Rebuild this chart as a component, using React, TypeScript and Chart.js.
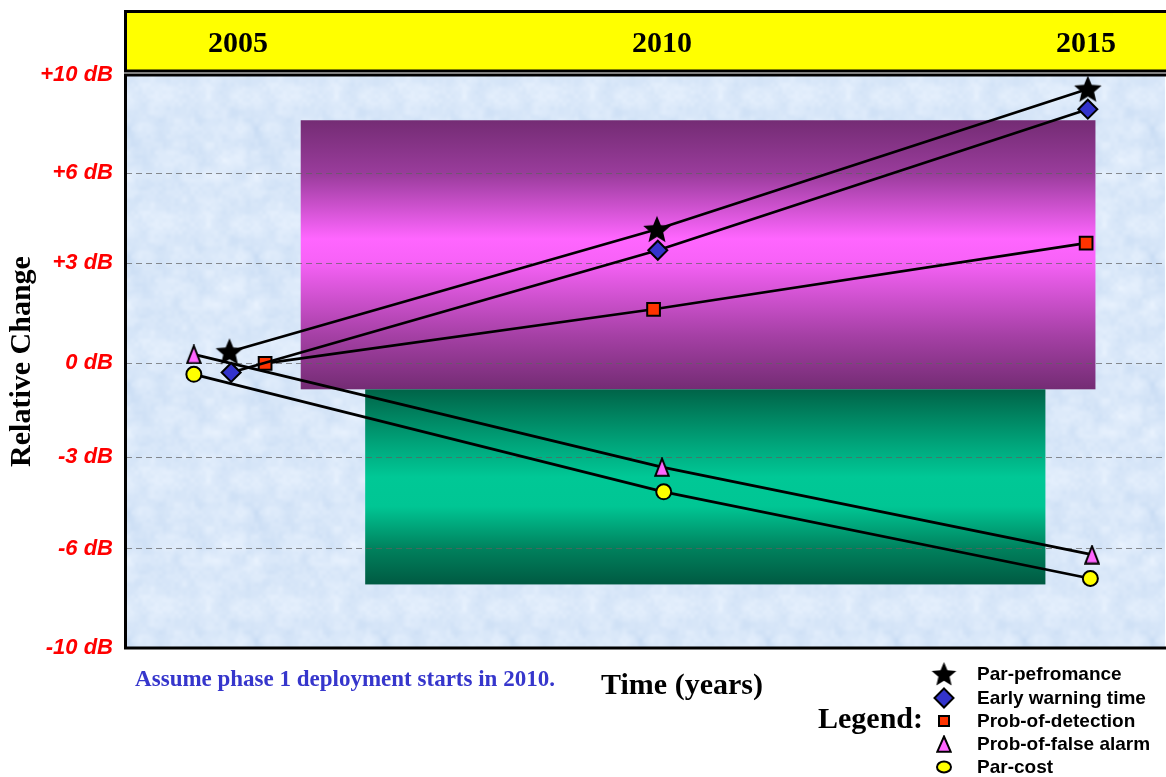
import React, { useEffect, useRef } from "react";
import { Chart, registerables } from "chart.js";

Chart.register(...registerables);

// ---------- data ----------
const yearTicks = [2005, 2010, 2015];
const yearMin = 2003.68;
const yearMax = 2015.93;

const yTickLabels = ["-10 dB", "-6 dB", "-3 dB", "0 dB", "+3 dB", "+6 dB", "+10 dB"];
const yTickDb = [-10, -6, -3, 0, 3, 6, 10];
const yTickPos = [0, 1.04, 2.0, 2.98, 4.03, 4.97, 6];

const seriesNames = [
  "Par-pefromance",
  "Early warning time",
  "Prob-of-detection",
  "Prob-of-false alarm",
  "Par-cost",
];

const perfYears = [2004.9, 2009.94, 2015.02];
const perfDb = [0.35, 4.13, 9.43];
const warnYears = [2004.92, 2009.95, 2015.02];
const warnDb = [-0.29, 3.43, 8.61];
const detYears = [2005.32, 2009.9, 2015.0];
const detDb = [0.0, 1.62, 3.67];
const falseYears = [2004.48, 2010.0, 2015.07];
const falseDb = [0.27, -3.33, -6.24];
const costYears = [2004.48, 2010.02, 2015.05];
const costDb = [-0.35, -4.14, -7.2];

const bandYearFrom = [2005.74, 2006.5];
const bandYearTo = [2015.11, 2014.52];
const bandDbTop = [8.16, -0.83];
const bandDbBottom = [-0.83, -7.44];

const noteText = "Assume phase 1 deployment starts in 2010.";
const xTitle = "Time (years)";
const yTitle = "Relative Change";
const legendTitle = "Legend:";

// ---------- helpers ----------
const SERIF = '"Liberation Serif", "Times New Roman", Times, serif';
const SANS = '"Liberation Sans", Arial, Helvetica, sans-serif';

function dbToPos(db: number): number {
  for (let i = 0; i < yTickDb.length - 1; i++) {
    const a = yTickDb[i], b = yTickDb[i + 1];
    if (db >= a && db <= b) {
      const t = (db - a) / (b - a);
      return yTickPos[i] + t * (yTickPos[i + 1] - yTickPos[i]);
    }
  }
  return db < yTickDb[0] ? yTickPos[0] : yTickPos[yTickPos.length - 1];
}

function makeStar(R: number, inner: number): HTMLCanvasElement {
  const w = Math.ceil(2 * R * 0.951) + 2;
  const h = Math.ceil(R * 1.809) + 2;
  const c = document.createElement("canvas");
  c.width = w;
  c.height = h;
  const g = c.getContext("2d")!;
  const cx = w / 2;
  const cy = 1 + R;
  g.beginPath();
  for (let i = 0; i < 10; i++) {
    const ang = -Math.PI / 2 + (i * Math.PI) / 5;
    const r = i % 2 ? R * inner : R;
    const x = cx + r * Math.cos(ang);
    const y = cy + r * Math.sin(ang);
    if (i === 0) g.moveTo(x, y);
    else g.lineTo(x, y);
  }
  g.closePath();
  g.fillStyle = "#000";
  g.fill();
  return c;
}

function makeTriangle(w: number, h: number): HTMLCanvasElement {
  const c = document.createElement("canvas");
  c.width = w;
  c.height = h;
  const g = c.getContext("2d")!;
  g.beginPath();
  g.moveTo(w / 2, 1.5);
  g.lineTo(w - 1.3, h - 1.3);
  g.lineTo(1.3, h - 1.3);
  g.closePath();
  g.fillStyle = "#ff66ff";
  g.fill();
  g.lineWidth = 2;
  g.strokeStyle = "#000";
  g.stroke();
  return c;
}

// subtle marble-like texture for the plot background (deterministic hash noise)
function makeTexture(): HTMLCanvasElement {
  const size = 128;
  const c = document.createElement("canvas");
  c.width = size;
  c.height = size;
  const g = c.getContext("2d")!;
  const img = g.createImageData(size, size);
  const hash = (x: number, y: number) => {
    let h = (x * 374761393 + y * 668265263) | 0;
    h = (h ^ (h >>> 13)) * 1274126177;
    h = h ^ (h >>> 16);
    return ((h >>> 0) % 1000) / 1000;
  };
  const vnoise = (x: number, y: number, cell: number) => {
    const gx = Math.floor(x / cell), gy = Math.floor(y / cell);
    const fx = x / cell - gx, fy = y / cell - gy;
    const n = size / cell;
    const h00 = hash(gx % n, gy % n), h10 = hash((gx + 1) % n, gy % n);
    const h01 = hash(gx % n, (gy + 1) % n), h11 = hash((gx + 1) % n, (gy + 1) % n);
    const sx = fx * fx * (3 - 2 * fx), sy = fy * fy * (3 - 2 * fy);
    return (h00 * (1 - sx) + h10 * sx) * (1 - sy) + (h01 * (1 - sx) + h11 * sx) * sy;
  };
  for (let y = 0; y < size; y++) {
    for (let x = 0; x < size; x++) {
      const v = 0.5 * vnoise(x, y, 16) + 0.3 * vnoise(x, y, 8) + 0.2 * vnoise(x, y, 4);
      const t = (v - 0.5) * 2; // -1..1
      const i = (y * size + x) * 4;
      img.data[i] = Math.round(218 + t * 16);
      img.data[i + 1] = Math.round(232 + t * 11);
      img.data[i + 2] = Math.round(249 + t * 5);
      img.data[i + 3] = 255;
    }
  }
  g.putImageData(img, 0, 0);
  return c;
}

function makeBandGradient(ctx: CanvasRenderingContext2D, top: number, bottom: number, idx: number) {
  const gr = ctx.createLinearGradient(0, top, 0, bottom);
  if (idx === 0) {
    gr.addColorStop(0, "#742c74");
    gr.addColorStop(0.2, "#9a3c9c");
    gr.addColorStop(0.44, "#ff66ff");
    gr.addColorStop(0.52, "#f862f8");
    gr.addColorStop(0.8, "#a540a5");
    gr.addColorStop(1, "#742c74");
  } else {
    gr.addColorStop(0, "#006448");
    gr.addColorStop(0.28, "#00a47a");
    gr.addColorStop(0.45, "#00c896");
    gr.addColorStop(0.6, "#00c694");
    gr.addColorStop(0.82, "#00805c");
    gr.addColorStop(1, "#005a42");
  }
  return gr;
}

export default function App() {
  const ref = useRef<HTMLCanvasElement | null>(null);

  useEffect(() => {
    if (!ref.current) return;
    const starImg = makeStar(14.5, 0.45);
    const triImg = makeTriangle(16, 20);
    const starLegend = makeStar(13, 0.45);
    const triLegend = makeTriangle(16, 18);
    const texture = makeTexture();

    const seriesYears = [perfYears, warnYears, detYears, falseYears, costYears];
    const seriesDb = [perfDb, warnDb, detDb, falseDb, costDb];
    const pointStyles: any[] = [starImg, "rectRot", "rect", triImg, "circle"];
    const pointColors = ["#000000", "#3333cc", "#ff3300", "#ff66ff", "#ffff00"];
    const pointRadii = [12, 9.5, 9, 10, 7.5];

    const datasets = seriesNames.map((name, si) => ({
      label: name,
      data: seriesYears[si].map((x, i) => ({ x, y: dbToPos(seriesDb[si][i]) })),
      borderColor: "#000",
      borderWidth: 2.7,
      tension: 0,
      fill: false,
      pointStyle: pointStyles[si],
      pointRadius: pointRadii[si],
      pointBackgroundColor: pointColors[si],
      pointBorderColor: "#000",
      pointBorderWidth: 2,
    }));

    const decor = {
      id: "decor",
      beforeDraw(chart: any) {
        const { ctx, chartArea: a, scales } = chart;
        const xs = scales.x, ys = scales.y;
        ctx.save();
        // plot background
        ctx.fillStyle = ctx.createPattern(texture, "repeat") || "#dbe8f9";
        ctx.fillRect(a.left, a.top, a.right - a.left, a.bottom - a.top);
        // bands
        for (let i = 0; i < bandYearFrom.length; i++) {
          const x1 = xs.getPixelForValue(bandYearFrom[i]);
          const x2 = xs.getPixelForValue(bandYearTo[i]);
          const y1 = ys.getPixelForValue(dbToPos(bandDbTop[i]));
          const y2 = ys.getPixelForValue(dbToPos(bandDbBottom[i]));
          ctx.fillStyle = makeBandGradient(ctx, y1, y2, i);
          ctx.fillRect(x1, y1, x2 - x1, y2 - y1);
        }
        // header box
        ctx.fillStyle = "#ffff00";
        ctx.fillRect(125.5, 11.5, chart.width, 59.5);
        ctx.lineWidth = 3;
        ctx.strokeStyle = "#000";
        ctx.strokeRect(125.5, 11.5, chart.width, 59.5);
        ctx.restore();
      },
      beforeDatasetsDraw(chart: any) {
        const { ctx, chartArea: a } = chart;
        ctx.save();
        ctx.lineWidth = 3;
        ctx.strokeStyle = "#000";
        ctx.strokeRect(a.left - 0.5, a.top, a.right - a.left + 10, a.bottom - a.top);
        ctx.restore();
      },
      afterDraw(chart: any) {
        const { ctx } = chart;
        ctx.save();
        // note
        ctx.fillStyle = "#3636cc";
        ctx.font = `bold 23px ${SERIF}`;
        ctx.textAlign = "center";
        ctx.textBaseline = "middle";
        ctx.fillText(noteText, 345, 680);
        // x title
        ctx.fillStyle = "#000";
        ctx.font = `bold 30px ${SERIF}`;
        ctx.fillText(xTitle, 682, 686);
        // legend title
        ctx.textAlign = "right";
        ctx.fillText(legendTitle, 923, 720);
        // legend entries
        const mx = 944;
        const rowY = [674, 698, 721, 744, 767];
        ctx.font = `bold 19px ${SANS}`;
        ctx.textAlign = "left";
        seriesNames.forEach((name, i) => {
          const y = rowY[i];
          ctx.lineWidth = 2;
          ctx.strokeStyle = "#000";
          if (i === 0) {
            ctx.drawImage(starLegend, mx - starLegend.width / 2, y - starLegend.height / 2);
          } else if (i === 1) {
            ctx.beginPath();
            ctx.moveTo(mx, y - 9.5);
            ctx.lineTo(mx + 9.5, y);
            ctx.lineTo(mx, y + 9.5);
            ctx.lineTo(mx - 9.5, y);
            ctx.closePath();
            ctx.fillStyle = pointColors[1];
            ctx.fill();
            ctx.stroke();
          } else if (i === 2) {
            ctx.fillStyle = pointColors[2];
            ctx.fillRect(mx - 5, y - 5, 10, 10);
            ctx.strokeRect(mx - 5, y - 5, 10, 10);
          } else if (i === 3) {
            ctx.drawImage(triLegend, mx - triLegend.width / 2, y - triLegend.height / 2);
          } else {
            ctx.beginPath();
            ctx.ellipse(mx, y, 7, 5.5, 0, 0, Math.PI * 2);
            ctx.fillStyle = pointColors[4];
            ctx.fill();
            ctx.stroke();
          }
          ctx.fillStyle = "#000";
          ctx.fillText(name, 977, y + 1);
        });
        ctx.restore();
      },
    };

    const chart = new Chart(ref.current, {
      type: "line",
      data: { datasets: datasets as any },
      plugins: [decor],
      options: {
        animation: false,
        responsive: false,
        layout: { autoPadding: false, padding: { left: 0, top: 0, right: 1, bottom: 129 } },
        plugins: { legend: { display: false }, tooltip: { enabled: false } },
        scales: {
          x: {
            type: "linear",
            position: "top",
            min: yearMin,
            max: yearMax,
            afterBuildTicks: (s: any) => {
              s.ticks = yearTicks.map((v) => ({ value: v }));
            },
            afterFit: (s: any) => {
              s.height = 75;
            },
            grid: { display: false, drawTicks: false },
            border: { display: false },
            ticks: {
              padding: 13,
              color: "#000",
              maxRotation: 0,
              font: { family: SERIF, size: 30, weight: "bold" },
              callback: (v: any) => String(v),
            },
          },
          y: {
            type: "linear",
            min: 0,
            max: 6,
            afterBuildTicks: (s: any) => {
              s.ticks = yTickPos.map((v) => ({ value: v }));
            },
            afterFit: (s: any) => {
              s.width = 126;
            },
            grid: { color: "rgba(95,95,95,0.7)", lineWidth: 1, drawTicks: false },
            border: { display: false, dash: [6, 4] },
            ticks: {
              padding: 13,
              color: "#ff0000",
              font: { family: SANS, size: 22, weight: "bold", style: "italic" },
              callback: (v: any) => {
                const idx = yTickPos.findIndex((p) => Math.abs(p - v) < 1e-6);
                return idx >= 0 ? yTickLabels[idx] : "";
              },
            },
            title: {
              display: true,
              text: yTitle,
              color: "#000",
              font: { family: SERIF, size: 30, weight: "bold" },
              padding: { top: 4, bottom: 0 },
            },
          },
        },
      } as any,
    });
    return () => chart.destroy();
  }, []);

  return (
    <div style={{ position: "absolute", left: 0, top: 0, width: 1166, height: 777, background: "#fff" }}>
      <canvas ref={ref} width={1166} height={777} style={{ display: "block" }} />
    </div>
  );
}
